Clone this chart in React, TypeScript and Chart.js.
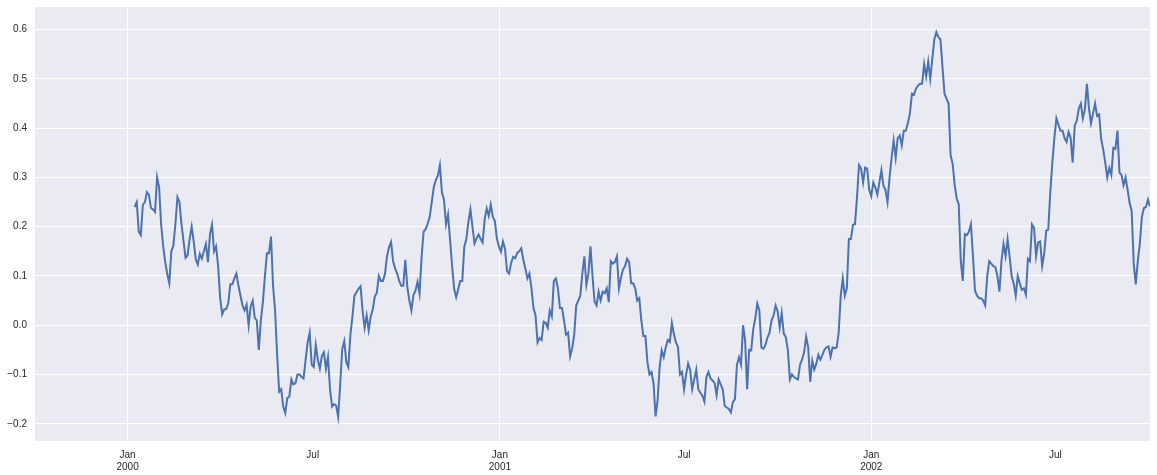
import React, { useEffect, useRef } from 'react';
import { Chart, registerables } from 'chart.js';

Chart.register(...registerables);

// Series: daily rolling mean, sampled every 2 days
const SERIES_START = '2000-01-08';
const STEP_DAYS = 2;
const rollingMean: number[] = [
  // Jan - Apr 2000
  0.24, 0.25, 0.19, 0.183, 0.244, 0.25, 0.27, 0.265, 0.238, 0.235, 0.23, 0.30, 0.28, 0.204, 0.16, 0.128, 0.104, 0.085, 0.15, 0.162,
  0.205, 0.26, 0.25, 0.205, 0.17, 0.137, 0.142, 0.175, 0.20, 0.17, 0.134, 0.123, 0.145, 0.135, 0.15, 0.165, 0.128, 0.185, 0.204, 0.15,
  0.16, 0.12, 0.055,
  // Apr - Jul 2000
  0.022, 0.032, 0.033, 0.045, 0.083, 0.083, 0.095, 0.105, 0.08, 0.06, 0.04, 0.03, 0.042, 0.0, 0.038, 0.05, 0.015, 0.01, -0.05, 0.01,
  0.047, 0.10, 0.146, 0.146, 0.18, 0.08, 0.03, -0.06, -0.135, -0.13, -0.165, -0.178, -0.148, -0.145, -0.11, -0.12, -0.118, -0.10, -0.10, -0.105,
  -0.108, -0.07, -0.035, -0.015, -0.08, -0.085, -0.04,
  // Jul - Oct 2000
  -0.07, -0.088, -0.062, -0.055, -0.088, -0.064, -0.13, -0.165, -0.16, -0.163, -0.186, -0.12, -0.048, -0.032, -0.075, -0.085, -0.02, 0.017, 0.06, 0.067,
  0.074, 0.079, 0.03, -0.005, 0.02, -0.01, 0.018, 0.032, 0.058, 0.066, 0.10, 0.09, 0.09, 0.104, 0.14, 0.158, 0.169, 0.13, 0.115, 0.105,
  0.09, 0.08, 0.08, 0.133, 0.077, 0.05,
  // Oct 2000 - Jan 2001
  0.03, 0.061, 0.07, 0.088, 0.064, 0.139, 0.19, 0.195, 0.206, 0.22, 0.25, 0.28, 0.295, 0.303, 0.325, 0.27, 0.255, 0.205, 0.225, 0.173,
  0.12, 0.074, 0.057, 0.073, 0.09, 0.09, 0.16, 0.175, 0.21, 0.235, 0.20, 0.166, 0.176, 0.184, 0.175, 0.168, 0.215, 0.237, 0.222, 0.245,
  0.22, 0.212, 0.176, 0.16, 0.149, 0.17, 0.155,
  // Jan - Apr 2001
  0.11, 0.105, 0.126, 0.139, 0.136, 0.147, 0.15, 0.156, 0.133, 0.115, 0.095, 0.105, 0.075, 0.035, 0.02, -0.035, -0.026, -0.03, 0.007, 0.005,
  -0.005, 0.03, 0.018, 0.09, 0.095, 0.075, 0.035, 0.035, 0.01, -0.019, -0.015, -0.063, -0.047, -0.02, 0.04, 0.05, 0.06, 0.105, 0.14, 0.082,
  0.105, 0.16, 0.10, 0.048, 0.04, 0.068, 0.05,
  // Apr - Jul 2001
  0.068, 0.065, 0.075, 0.047, 0.13, 0.125, 0.128, 0.14, 0.075, 0.097, 0.113, 0.12, 0.135, 0.128, 0.085, 0.085, 0.075, 0.05, 0.055, 0.01,
  -0.022, -0.022, -0.075, -0.1, -0.095, -0.118, -0.185, -0.152, -0.085, -0.051, -0.065, -0.045, -0.03, -0.034, 0.005, -0.018, -0.035, -0.044, -0.1, -0.095,
  -0.13, -0.1, -0.078, -0.091, -0.13, -0.11, -0.09,
  // Jul - Oct 2001
  -0.13, -0.137, -0.143, -0.155, -0.105, -0.095, -0.108, -0.112, -0.117, -0.142, -0.11, -0.12, -0.13, -0.164, -0.167, -0.17, -0.177, -0.156, -0.15, -0.08,
  -0.065, -0.08, 0.0, -0.03, -0.13, -0.05, -0.051, -0.008, 0.014, 0.044, 0.03, -0.045, -0.048, -0.04, -0.025, -0.015, 0.01, 0.02, 0.04, 0.028,
  -0.005, 0.025, -0.017, -0.024, -0.05, -0.11,
  // Oct 2001 - Jan 2002
  -0.10, -0.105, -0.108, -0.11, -0.08, -0.07, -0.055, -0.023, -0.045, -0.115, -0.072, -0.09, -0.078, -0.06, -0.07, -0.06, -0.05, -0.045, -0.043, -0.064,
  -0.045, -0.047, -0.045, -0.015, 0.06, 0.095, 0.06, 0.075, 0.175, 0.175, 0.204, 0.205, 0.26, 0.325, 0.318, 0.29, 0.32, 0.318, 0.275, 0.262,
  0.29, 0.28, 0.265, 0.29, 0.315, 0.283, 0.275,
  // Jan - Apr 2002
  0.25, 0.30, 0.34, 0.375, 0.34, 0.38, 0.385, 0.365, 0.395, 0.395, 0.41, 0.43, 0.47, 0.468, 0.48, 0.487, 0.49, 0.49, 0.53, 0.505,
  0.535, 0.50, 0.54, 0.58, 0.595, 0.585, 0.58, 0.525, 0.47, 0.46, 0.45, 0.345, 0.328, 0.285, 0.257, 0.245, 0.13, 0.09, 0.185, 0.183,
  0.19, 0.205, 0.139, 0.07, 0.06, 0.055, 0.055,
  // Apr - Jul 2002
  0.05, 0.04, 0.099, 0.13, 0.125, 0.12, 0.118, 0.10, 0.068, 0.13, 0.165, 0.14, 0.175, 0.14, 0.10, 0.085, 0.06, 0.10, 0.085, 0.072,
  0.075, 0.062, 0.135, 0.13, 0.205, 0.198, 0.14, 0.168, 0.17, 0.12, 0.145, 0.192, 0.194, 0.27, 0.33, 0.38, 0.42, 0.407, 0.395, 0.395,
  0.38, 0.372, 0.392, 0.38, 0.33, 0.405, 0.415,
  // Jul - Oct 2002
  0.44, 0.45, 0.42, 0.438, 0.49, 0.44, 0.41, 0.43, 0.45, 0.425, 0.428, 0.378, 0.357, 0.33, 0.30, 0.319, 0.305, 0.36, 0.358, 0.395,
  0.31, 0.305, 0.284, 0.30, 0.275, 0.248, 0.232, 0.125, 0.083, 0.13, 0.165, 0.22, 0.238, 0.24, 0.255, 0.241,
];

// Axes
const X_START = '1999-10-02';
const TICK_DATES = ['2000-01-01', '2000-07-01', '2001-01-01', '2001-07-01', '2002-01-01', '2002-07-01'];
const TICK_LABELS: (string | string[])[] = [['Jan', '2000'], 'Jul', ['Jan', '2001'], 'Jul', ['Jan', '2002'], 'Jul'];
const Y_TICKS = [-0.2, -0.1, 0, 0.1, 0.2, 0.3, 0.4, 0.5, 0.6];
const Y_MIN = -0.235;
const Y_MAX = 0.646;

const DAY_MS = 86400000;
const EPOCH = Date.parse('2000-01-01T00:00:00Z');
const dayOf = (iso: string) => (Date.parse(iso + 'T00:00:00Z') - EPOCH) / DAY_MS;

const TICK_FONT = { family: '"Liberation Sans", Arial, sans-serif', size: 10 };
const TEXT_COLOR = '#262626';

export default function App() {
  const ref = useRef<HTMLCanvasElement>(null);

  useEffect(() => {
    const start = dayOf(SERIES_START);
    const points = rollingMean.map((v, i) => ({ x: start + i * STEP_DAYS, y: v }));
    const tickDays = TICK_DATES.map(dayOf);
    const lastDay = points[points.length - 1].x;

    const bgPlugin = {
      id: 'plotBg',
      beforeDraw(chart: any) {
        const { ctx, chartArea } = chart;
        if (!chartArea) return;
        ctx.save();
        ctx.fillStyle = '#EAEAF2';
        ctx.fillRect(chartArea.left, chartArea.top, chartArea.right - chartArea.left, chartArea.bottom - chartArea.top);
        ctx.restore();
      },
    };

    const chart = new Chart(ref.current!, {
      type: 'line',
      data: {
        datasets: [
          {
            data: points,
            borderColor: '#4C72B0',
            borderWidth: 2,
            pointRadius: 0,
            tension: 0,
            fill: false,
          },
        ],
      },
      options: {
        animation: false,
        responsive: false,
        maintainAspectRatio: false,
        layout: { padding: { top: 7, right: 7, left: 0, bottom: 0 } },
        plugins: { legend: { display: false }, tooltip: { enabled: false } },
        scales: {
          x: {
            type: 'linear',
            min: dayOf(X_START),
            max: lastDay,
            afterBuildTicks: (axis: any) => {
              axis.ticks = tickDays.map((v) => ({ value: v }));
            },
            afterFit: (axis: any) => {
              axis.height = 34;
              axis.paddingLeft = 0;
              axis.paddingRight = 0;
            },
            grid: {
              color: (ctx: any) => (Array.isArray(TICK_LABELS[ctx.index]) ? '#ffffff' : 'rgba(0,0,0,0)'),
              lineWidth: 1,
              drawTicks: false,
            },
            border: { display: false },
            ticks: {
              autoSkip: false,
              maxRotation: 0,
              padding: 8,
              font: TICK_FONT,
              color: TEXT_COLOR,
              callback: (_v: any, i: number) => TICK_LABELS[i],
            },
          },
          y: {
            type: 'linear',
            min: Y_MIN,
            max: Y_MAX,
            afterBuildTicks: (axis: any) => {
              axis.ticks = Y_TICKS.map((v) => ({ value: v }));
            },
            afterFit: (axis: any) => {
              axis.width = 35;
              axis.paddingTop = 0;
              axis.paddingBottom = 0;
            },
            grid: { color: '#ffffff', lineWidth: 1, drawTicks: false },
            border: { display: false },
            ticks: {
              padding: 8,
              font: TICK_FONT,
              color: TEXT_COLOR,
              callback: (v: any) => {
                const n = Number(v);
                const s = Math.abs(n).toFixed(1);
                return n < -1e-9 ? '\u2212' + s : s;
              },
            },
          },
        },
      },
      plugins: [bgPlugin],
    });
    return () => chart.destroy();
  }, []);

  return (
    <div style={{ position: 'absolute', left: 0, top: 0, width: 1157, height: 475, background: '#ffffff' }}>
      <canvas ref={ref} width={1157} height={475} style={{ display: 'block' }} />
    </div>
  );
}
